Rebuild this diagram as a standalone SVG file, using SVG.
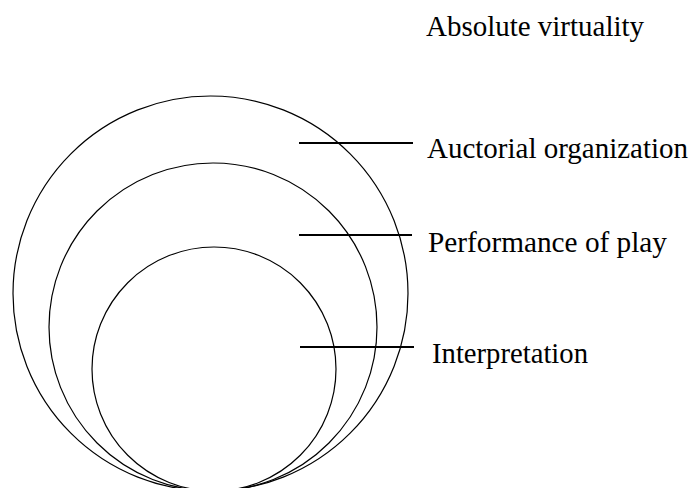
<svg xmlns="http://www.w3.org/2000/svg" width="693" height="488" viewBox="0 0 693 488">
<style>
.c{fill:none;stroke:#000;stroke-width:1.2}
.l{stroke:#000;stroke-width:2}
text{font-family:"Liberation Serif","Times New Roman",serif;font-size:29px;fill:#000}
</style>
<rect width="693" height="488" fill="#fff"/>
<g id="outer"><circle class="c" cx="210.5" cy="293.5" r="197.5"/></g>
<g id="middle"><circle class="c" cx="213" cy="327" r="164"/></g>
<g id="inner"><circle class="c" cx="214" cy="369" r="122"/></g>
<g id="connectors">
<line class="l" x1="299" y1="143" x2="413" y2="143"/>
<line class="l" x1="299" y1="235" x2="412" y2="235"/>
<line class="l" x1="300" y1="347" x2="414" y2="347"/>
</g>
<g id="label-absolute"><text x="426" y="36" textLength="218" lengthAdjust="spacingAndGlyphs">Absolute virtuality</text></g>
<g id="label-auctorial"><text x="427" y="158" textLength="261" lengthAdjust="spacingAndGlyphs">Auctorial organization</text></g>
<g id="label-performance"><text x="428" y="252" textLength="239" lengthAdjust="spacingAndGlyphs">Performance of play</text></g>
<g id="label-interpretation"><text x="432" y="363" textLength="156" lengthAdjust="spacingAndGlyphs">Interpretation</text></g>
</svg>
